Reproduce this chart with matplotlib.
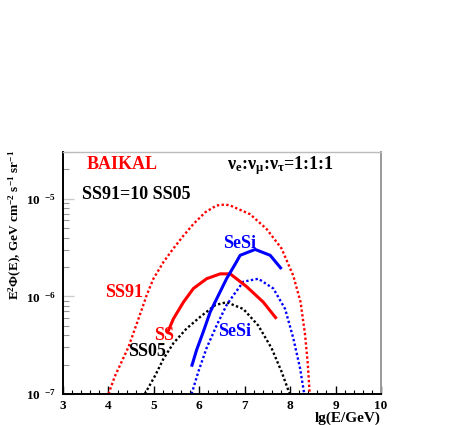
"""Baikal neutrino flux limits vs model predictions (ROOT-like look)."""

import matplotlib

matplotlib.use("Agg")
import matplotlib.pyplot as plt  # noqa: E402
import numpy as np  # noqa: E402
from matplotlib.ticker import FixedLocator, FixedFormatter, MultipleLocator  # noqa: E402

# ---- data: x = lg(E/GeV), lg = log10(E^2 Phi) --------------------------------
ss91_x = [4.0, 4.14, 4.44, 4.73, 4.84, 4.99, 5.21, 5.43, 5.65, 5.87, 6.13, 6.38,
          6.57, 6.68, 7.12, 7.48, 7.81, 8.07, 8.23, 8.33, 8.39, 8.43]
ss91_lg = [-7.0, -6.82, -6.52, -6.14, -5.99, -5.82, -5.65, -5.51, -5.38, -5.26,
           -5.14, -5.07, -5.06, -5.07, -5.16, -5.31, -5.51, -5.79, -6.06, -6.40,
           -6.70, -7.0]

ss_x = [5.28, 5.32, 5.43, 5.65, 5.87, 6.16, 6.46, 6.68, 7.04, 7.41, 7.70]
ss_lg = [-6.37, -6.35, -6.23, -6.06, -5.92, -5.82, -5.77, -5.77, -5.90, -6.06, -6.23]

ss05_x = [4.80, 5.03, 5.21, 5.43, 5.72, 6.02, 6.35, 6.60, 6.97, 7.30, 7.59, 7.81, 7.99]
ss05_lg = [-7.0, -6.81, -6.64, -6.48, -6.33, -6.21, -6.09, -6.06, -6.13, -6.30,
           -6.53, -6.77, -7.0]

sesi_x = [5.83, 5.94, 6.09, 6.24, 6.42, 6.60, 6.79, 6.90, 7.23, 7.56, 7.81]
sesi_lg = [-6.72, -6.55, -6.36, -6.16, -5.99, -5.82, -5.67, -5.58, -5.52, -5.58, -5.72]

sesi2_x = [5.83, 5.98, 6.16, 6.38, 6.60, 6.75, 6.97, 7.30, 7.63, 7.89, 8.07, 8.22, 8.31]
sesi2_lg = [-7.0, -6.77, -6.53, -6.30, -6.09, -5.99, -5.85, -5.82, -5.92, -6.13,
            -6.43, -6.74, -7.0]

xticks = [3, 4, 5, 6, 7, 8, 9, 10]
yticks = [1e-7, 1e-6, 1e-5]
ytick_labels = [r"$\mathbf{10}^{\ \ \mathbf{-7}}$", r"$\mathbf{10}^{\ \ \mathbf{-6}}$",
                r"$\mathbf{10}^{\ \ \mathbf{-5}}$"]

RED = "#ff0000"
BLUE = "#0000ff"
INK = "#000000"

plt.rcParams.update({
    "font.family": ["Liberation Serif", "DejaVu Serif"],
    "font.weight": "bold",
    "mathtext.fontset": "custom",
    "mathtext.rm": "Liberation Serif:bold",
    "mathtext.bf": "Liberation Serif:bold",
    "mathtext.it": "Liberation Serif:bold",
    "mathtext.default": "bf",
})

fig = plt.figure(figsize=(4.57, 4.25), dpi=100)
ax = fig.add_axes([0.1379, 0.0729, 0.6958, 0.5694])

dot = (0, (1, 1))
ax.plot(ss91_x, 10 ** np.array(ss91_lg), color=RED, lw=1.7, ls=dot)
ax.plot(ss05_x, 10 ** np.array(ss05_lg), color=INK, lw=1.7, ls=dot)
ax.plot(sesi2_x, 10 ** np.array(sesi2_lg), color=BLUE, lw=1.7, ls=dot)
ax.plot(ss_x, 10 ** np.array(ss_lg), color=RED, lw=2.2, solid_capstyle="butt")
ax.plot(sesi_x, 10 ** np.array(sesi_lg), color=BLUE, lw=2.2, solid_capstyle="butt")

ax.set_yscale("log")
ax.set_xlim(3, 10)
ax.set_ylim(1e-7, 3e-5)

ax.xaxis.set_major_locator(FixedLocator(xticks))
ax.xaxis.set_minor_locator(MultipleLocator(0.2))
ax.yaxis.set_major_locator(FixedLocator(yticks))
ax.yaxis.set_major_formatter(FixedFormatter(ytick_labels))
ax.tick_params(axis="both", which="both", direction="in", labelsize=9.5)
ax.tick_params(axis="x", which="major", length=6, width=1, pad=4)
ax.tick_params(axis="x", which="minor", length=3, width=0.8)
ax.tick_params(axis="y", which="major", length=8, width=1, color="#cccccc", pad=5)
ax.tick_params(axis="y", which="minor", length=4, width=0.8, color="#999999")

for side in ("left", "bottom"):
    ax.spines[side].set_color(INK)
    ax.spines[side].set_linewidth(1.4)
ax.spines["top"].set_color("#bbbbbb")
ax.spines["right"].set_color("#999999")
ax.spines["top"].set_linewidth(1.0)
ax.spines["right"].set_linewidth(1.4)

ax.set_xlabel("lg(E/GeV)", fontsize=11, fontweight="bold", ha="right", va="top")
ax.xaxis.set_label_coords(1.0, -0.072)
fig.text(15 / 457, 1 - 150 / 425,
         r"E$^{2}\Phi$(E), GeV cm$^{-2}$ s$^{-1}$ sr$^{-1}$",
         fontsize=9.5, fontweight="bold", rotation=90, ha="center", va="top")

kw = dict(fontsize=13, fontweight="bold", va="baseline", ha="left")
ax.text(3.53, 2.0e-5, "BAIKAL", color=RED, **kw)
ax.text(6.61, 2.0e-5, r"$\nu_{e}$:$\nu_{\mu}$:$\nu_{\tau}$=1:1:1", color=INK, **kw)
ax.text(3.42, 9.8e-6, "SS91=10 SS05", color=INK, **kw)
ax.text(6.52, 3.1e-6, "SeSi", color=BLUE, **kw)
ax.text(3.92, 9.8e-7, "SS91", color=RED, **kw)
ax.text(5.00, 3.56e-7, "SS", color=RED, **kw)
ax.text(4.43, 2.45e-7, "SS05", color=INK, **kw)
ax.text(6.41, 3.94e-7, "SeSi", color=BLUE, **kw)

fig.savefig("out.png", dpi=100)
